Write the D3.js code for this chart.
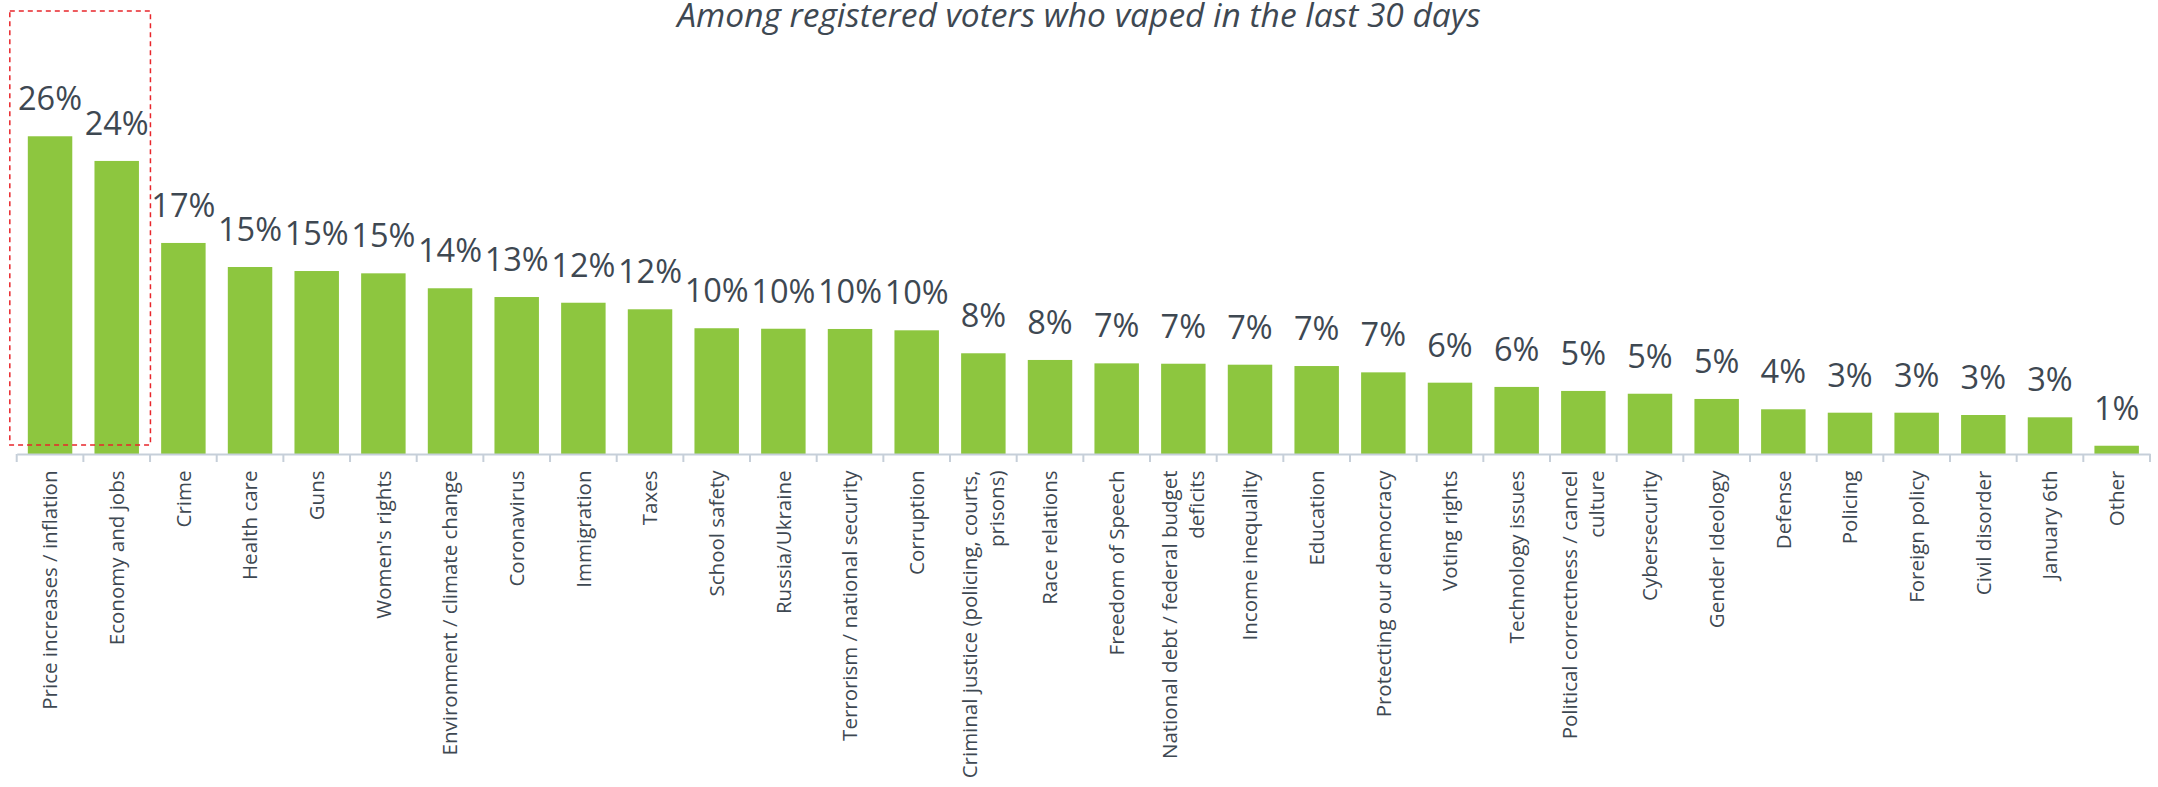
<!DOCTYPE html>
<html>
<head>
<meta charset="utf-8">
<script src="https://cdn.jsdelivr.net/npm/d3@7"></script>
<style>
  html, body { margin: 0; padding: 0; background: #ffffff; }
  svg { display: block; }
  text { font-family: "Open Sans", "Noto Sans", sans-serif; }
</style>
</head>
<body>
<svg id="chart" width="2158" height="787"></svg>
<script>
// ---- data ----
const title = "Among registered voters who vaped in the last 30 days";
const categories = [
  "Price increases / inflation",
  "Economy and jobs",
  "Crime",
  "Health care",
  "Guns",
  "Women's rights",
  "Environment / climate change",
  "Coronavirus",
  "Immigration",
  "Taxes",
  "School safety",
  "Russia/Ukraine",
  "Terrorism / national security",
  "Corruption",
  "Criminal justice (policing, courts,\nprisons)",
  "Race relations",
  "Freedom of Speech",
  "National debt / federal budget\ndeficits",
  "Income inequality",
  "Education",
  "Protecting our democracy",
  "Voting rights",
  "Technology issues",
  "Political correctness / cancel\nculture",
  "Cybersecurity",
  "Gender Ideology",
  "Defense",
  "Policing",
  "Foreign policy",
  "Civil disorder",
  "January 6th",
  "Other"
];
const values = [
  26.15, 24.12, 17.37, 15.39, 15.06, 14.87, 13.64, 12.92, 12.45, 11.91,
  10.35, 10.31, 10.29, 10.18, 8.29, 7.74, 7.46, 7.43, 7.35, 7.24,
  6.72, 5.87, 5.52, 5.19, 4.96, 4.53, 3.68, 3.40, 3.40, 3.21,
  3.02, 0.68
];
const highlighted = ["Price increases / inflation", "Economy and jobs"];

// ---- layout ----
const W = 2158, H = 787;
const baseY = 454;
const svg = d3.select("#chart");

const x = d3.scaleBand()
  .domain(categories)
  .range([16.7, 2150])
  .paddingInner(0.333)
  .paddingOuter(0.1667);

const y = d3.scaleLinear()
  .domain([0, 30])
  .range([baseY, baseY - 30 * 12.15]);

const textColor = "#3e4852";
const barColor = "#8dc63f";

// title
svg.append("text")
  .attr("x", 1079)
  .attr("y", 27)
  .attr("text-anchor", "middle")
  .attr("font-style", "italic")
  .attr("font-size", 33.5)
  .attr("fill", textColor)
  .text(title);

// bars
svg.append("g").selectAll("rect")
  .data(categories)
  .join("rect")
  .attr("x", d => x(d))
  .attr("width", x.bandwidth())
  .attr("y", (d, i) => y(values[i]))
  .attr("height", (d, i) => baseY - y(values[i]))
  .attr("fill", barColor);

// value labels
svg.append("g").selectAll("text")
  .data(categories)
  .join("text")
  .attr("x", d => x(d) + x.bandwidth() / 2)
  .attr("y", (d, i) => y(values[i]) - 26)
  .attr("text-anchor", "middle")
  .attr("font-size", 32.5)
  .attr("fill", textColor)
  .text((d, i) => Math.round(values[i]) + "%");

// x axis
const axis = svg.append("g")
  .attr("transform", `translate(0,${baseY})`)
  .call(d3.axisBottom(x).tickSize(0).tickSizeOuter(0).tickPadding(0));

axis.select(".domain")
  .attr("stroke", "#c6cfd9")
  .attr("stroke-width", 2);

// boundary ticks between categories
const step = x.step();
const gap = step - x.bandwidth();
const boundaries = categories.map(d => x(d) - gap / 2).concat([x(categories[categories.length - 1]) + x.bandwidth() + gap / 2]);
axis.append("g").selectAll("line")
  .data(boundaries)
  .join("line")
  .attr("x1", d => d).attr("x2", d => d)
  .attr("y1", 0).attr("y2", 8)
  .attr("stroke", "#c6cfd9")
  .attr("stroke-width", 2);

// category labels, rotated
axis.selectAll(".tick text").each(function(d) {
  const t = d3.select(this);
  const lines = d.split("\n");
  const lh = 27;
  t.text(null)
    .attr("transform", "rotate(-90)")
    .attr("text-anchor", "end")
    .attr("x", -16.5)
    .attr("y", 0)
    .attr("dy", null)
    .attr("font-size", 20.5)
    .attr("font-family", "'Open Sans', 'Noto Sans', sans-serif")
    .attr("fill", textColor);
  const off = -(lines.length - 1) * lh / 2;
  lines.forEach((ln, k) => {
    t.append("tspan")
      .attr("x", -16.5)
      .attr("y", off + k * lh)
      .attr("dy", "0.35em")
      .text(ln);
  });
});

// highlight box around first two categories
const hx0 = x(highlighted[0]) - 18;
const hx1 = x(highlighted[1]) + x.bandwidth() + 11.5;
svg.append("rect")
  .attr("x", hx0)
  .attr("y", 11)
  .attr("width", hx1 - hx0)
  .attr("height", 445 - 11)
  .attr("fill", "none")
  .attr("stroke", "#e8262b")
  .attr("stroke-width", 1.5)
  .attr("stroke-dasharray", "5,4");
</script>
</body>
</html>
